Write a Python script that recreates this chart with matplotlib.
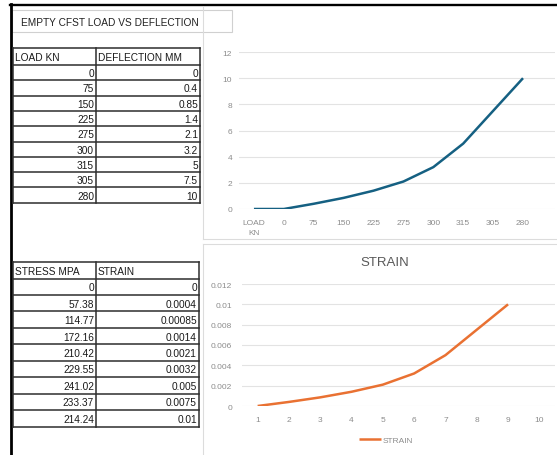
import matplotlib
matplotlib.use("Agg")
import matplotlib.pyplot as plt
from matplotlib.patches import Rectangle
from matplotlib.lines import Line2D

# ---- data -------------------------------------------------------------
load_kn = [0, 75, 150, 225, 275, 300, 315, 305, 280]
deflection_mm = [0, 0.4, 0.85, 1.4, 2.1, 3.2, 5, 7.5, 10]
stress_mpa = [0, 57.38, 114.77, 172.16, 210.42, 229.55, 241.02, 233.37, 214.24]
strain = [0, 0.0004, 0.00085, 0.0014, 0.0021, 0.0032, 0.005, 0.0075, 0.01]

# first chart also plots the header row (text counted as 0)
chart1_categories = ["LOAD\nKN", "0", "75", "150", "225", "275", "300", "315", "305", "280"]
chart1_values = [0, 0, 0.4, 0.85, 1.4, 2.1, 3.2, 5, 7.5, 10]
chart2_categories = [1, 2, 3, 4, 5, 6, 7, 8, 9, 10]

title_text = "EMPTY CFST LOAD VS DEFLECTION"
table1_header = ["LOAD KN", "DEFLECTION MM"]
table2_header = ["STRESS MPA", "STRAIN"]

# ---- figure -----------------------------------------------------------
W, H = 557, 456
fig = plt.figure(figsize=(W / 100, H / 100), dpi=100)
fig.patch.set_facecolor("white")
plt.rcParams["font.family"] = ["Liberation Sans", "DejaVu Sans"]

# pixel canvas for sheet elements
canvas = fig.add_axes([0, 0, 1, 1])
canvas.set_xlim(0, W)
canvas.set_ylim(H, 0)
canvas.axis("off")

def fig_rect(x0, y0, x1, y1):
    return [x0 / W, 1 - y1 / H, (x1 - x0) / W, (y1 - y0) / H]

# sheet frame lines
canvas.add_line(Line2D([10, W], [6, 6], color="black", lw=1.7))
canvas.add_line(Line2D([11, 11], [5, H], color="black", lw=2.0))

# chart frames
frame_col = "#dcdcdc"
canvas.add_line(Line2D([203, 203], [8, 240], color=frame_col, lw=0.8))
canvas.add_line(Line2D([203, W], [240, 240], color=frame_col, lw=0.8))
canvas.add_line(Line2D([203, 203], [245, H], color=frame_col, lw=0.8))
canvas.add_line(Line2D([203, W], [245, 245], color=frame_col, lw=0.8))

# title box
canvas.add_patch(Rectangle((12, 11), 220, 22, fill=False, ec="#d0d0d0", lw=0.8))
canvas.text(21, 22.5, title_text, fontsize=7.3, color="#222222", va="center", ha="left")

text_col = "#1a1a1a"
border_col = "#2e2e2e"

def draw_table(x0, xm, x1, y_top, header_h, row_h, header, col_a, col_b):
    n = len(col_a)
    y_bottom = y_top + header_h + n * row_h
    # header
    canvas.text(x0 + 2, y_top + header_h / 2 + 0.5, header[0], fontsize=7.3,
                color=text_col, va="center", ha="left")
    canvas.text(xm + 2, y_top + header_h / 2 + 0.5, header[1], fontsize=7.3,
                color=text_col, va="center", ha="left")
    ys = [y_top, y_top + header_h] + [y_top + header_h + (i + 1) * row_h for i in range(n)]
    for y in ys:
        canvas.add_line(Line2D([x0, x1], [y, y], color=border_col, lw=1.1))
    for x in (x0, xm, x1):
        canvas.add_line(Line2D([x, x], [y_top, y_bottom], color=border_col, lw=1.1))
    for i, (a, b) in enumerate(zip(col_a, col_b)):
        yc = y_top + header_h + (i + 0.5) * row_h + 0.5
        canvas.text(xm - 2, yc, f"{a:g}", fontsize=7.3, color=text_col, va="center", ha="right")
        canvas.text(x1 - 2, yc, f"{b:g}", fontsize=7.3, color=text_col, va="center", ha="right")

draw_table(13, 96, 200, 49, 17, 15.3, table1_header, load_kn, deflection_mm)
draw_table(13, 96, 199, 263, 16.5, 16.45, table2_header, stress_mpa, strain)

tick_col = "#8c8c8c"
grid_col = "#e3e3e3"

def style_axes(ax):
    for s in ax.spines.values():
        s.set_visible(False)
    ax.set_facecolor("none")
    ax.yaxis.grid(True, color=grid_col, lw=0.8)
    ax.set_axisbelow(True)
    ax.tick_params(length=0, labelsize=6, labelcolor=tick_col)

# ---- chart 1: load vs deflection ---------------------------------------
ax1 = fig.add_axes(fig_rect(239, 53, 555, 210))
style_axes(ax1)
x1 = list(range(len(chart1_categories)))
ax1.plot(x1, chart1_values, color="#156082", lw=1.8, solid_capstyle="butt")
ax1.set_xlim(-0.5, 10.07)
ax1.set_ylim(0, 12)
ax1.set_yticks([0, 2, 4, 6, 8, 10, 12])
ax1.set_xticks(x1)
ax1.set_xticklabels(chart1_categories, linespacing=1.75, multialignment="center")
ax1.tick_params(axis="y", pad=5)
ax1.tick_params(axis="x", pad=7)

# ---- chart 2: strain ---------------------------------------------------
ax2 = fig.add_axes(fig_rect(242, 285, 555, 407))
style_axes(ax2)
ax2.plot(chart2_categories[:len(strain)], strain, color="#E97132", lw=1.8,
         solid_capstyle="butt", label="STRAIN")
ax2.set_xlim(0.5, 10.5)
ax2.set_ylim(0, 0.012)
ax2.set_yticks([0, 0.002, 0.004, 0.006, 0.008, 0.01, 0.012])
ax2.set_yticklabels(["0", "0.002", "0.004", "0.006", "0.008", "0.01", "0.012"])
ax2.set_xticks(chart2_categories)
ax2.tick_params(axis="y", pad=7)
ax2.tick_params(axis="x", pad=7)
fig.text(385 / W, 1 - 263 / H, "STRAIN", fontsize=9.5, color="#595959",
         ha="center", va="center")
leg = ax2.legend(loc="center", bbox_to_anchor=(386 / W, 1 - 441 / H),
                 bbox_transform=fig.transFigure, frameon=False, fontsize=6,
                 handlelength=2.6, handletextpad=0.15)
for t in leg.get_texts():
    t.set_color(tick_col)

fig.savefig("out.png", dpi=100, facecolor="white")
